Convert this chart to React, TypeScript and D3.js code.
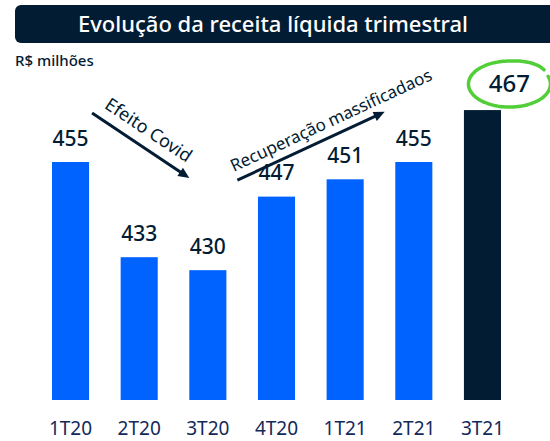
import React from "react";
import * as d3 from "d3";

const categories = ["1T20", "2T20", "3T20", "4T20", "1T21", "2T21", "3T21"];
const values = [455, 433, 430, 447, 451, 455, 467];
const highlight = [false, false, false, false, false, false, true];
const title = "Evolução da receita líquida trimestral";
const unitLabel = "R$ milhões";
const covidText = "Efeito Covid";
const recoveryText = "Recuperação massificadaos";

const W = 550;
const H = 441;
const FONT = "'Noto Sans', 'Open Sans', sans-serif";
const BLUE = "#0063ff";
const NAVY = "#021c33";
const GREEN = "#52cf38";

export default function App() {
  const x = d3.scaleBand<string>().domain(categories).range([52, 501]).paddingInner(0.46).paddingOuter(0);
  const y = d3.scaleLinear().domain([400, 455]).range([400, 162]);
  const bw = x.bandwidth();
  const cx = (c: string) => (x(c) as number) + bw / 2;

  const covid = { x1: (x("1T20") as number) + bw + 3, y1: y(466.3), x2: x("3T20") as number, y2: y(451.3) };
  const rec = { x1: (x("3T20") as number) + bw + 11, y1: y(450.8), x2: (x("1T21") as number) + bw + 21, y2: y(466.6) };

  const arrow = (a: { x1: number; y1: number; x2: number; y2: number }, key: string) => {
    const ang = Math.atan2(a.y2 - a.y1, a.x2 - a.x1);
    const L = 11, Wd = 5;
    const bx = a.x2 - L * Math.cos(ang), by = a.y2 - L * Math.sin(ang);
    const px = -Math.sin(ang) * Wd, py = Math.cos(ang) * Wd;
    return (
      <g key={key}>
        <line x1={a.x1} y1={a.y1} x2={bx + 2 * Math.cos(ang)} y2={by + 2 * Math.sin(ang)} stroke={NAVY} strokeWidth={3} />
        <path d={`M${a.x2},${a.y2}L${bx + px},${by + py}L${bx - px},${by - py}Z`} fill={NAVY} />
      </g>
    );
  };

  const textOn = (a: { x1: number; y1: number; x2: number; y2: number }, txt: string, along: number, perp: number, size: number) => {
    const ang = Math.atan2(a.y2 - a.y1, a.x2 - a.x1);
    const mx = (a.x1 + a.x2) / 2, my = (a.y1 + a.y2) / 2;
    const ux = Math.cos(ang), uy = Math.sin(ang);
    const nx = Math.sin(ang), ny = -Math.cos(ang);
    const tx = mx + ux * along + nx * perp;
    const ty = my + uy * along + ny * perp;
    return (
      <text x={tx} y={ty} textAnchor="middle" fontSize={size} fill={NAVY} fontFamily={FONT}
        transform={`rotate(${(ang * 180) / Math.PI},${tx},${ty})`}>{txt}</text>
    );
  };

  const hiIdx = highlight.indexOf(true);
  const hi = categories[hiIdx];
  const ecx = cx(hi) + 27, ecy = y(values[hiIdx]) - 26;
  const pts: [number, number][] = [];
  for (let t = -0.35 * Math.PI; t <= 1.62 * Math.PI; t += 0.05) {
    const ang = -Math.PI / 2 - t;
    const grow = t < 0 ? 1 + t * 0.05 : 1;
    pts.push([ecx + 41 * Math.cos(ang) * grow, ecy + 23 * Math.sin(ang) * grow + (t < 0 ? t * 4 : 0)]);
  }
  const eline = d3.line().curve(d3.curveCatmullRom)(pts) as string;

  return (
    <svg width={W} height={H} style={{ position: "absolute", left: 0, top: 0 }}>
      <rect x={0} y={0} width={W} height={H} fill="#ffffff" />
      <rect x={15} y={5} width={560} height={38} rx={6} fill={NAVY} />
      <text x={273} y={32} textAnchor="middle" fontSize={22} fontWeight={500} fill="#ffffff" fontFamily={FONT}>{title}</text>
      <text x={15} y={66} fontSize={15} fontWeight={500} fill={NAVY} fontFamily={FONT}>{unitLabel}</text>

      {categories.map((c, i) => (
        <g key={c}>
          <rect x={x(c)} y={y(values[i])} width={bw} height={y(400) - y(values[i])} fill={highlight[i] ? NAVY : BLUE} />
          <text x={highlight[i] ? ecx : cx(c)} y={y(values[i]) - (highlight[i] ? 18 : 16.5)} textAnchor="middle"
            fontSize={highlight[i] ? 24 : 21} fontWeight={500} fill={NAVY} fontFamily={FONT}>{values[i]}</text>
          <text x={cx(c)} y={435} textAnchor="middle" fontSize={19} fontWeight={400} fill="#13295b" fontFamily={FONT}>{c}</text>
        </g>
      ))}

      {arrow(covid, "covid")}
      {textOn(covid, covidText, -2, 11, 18)}
      {arrow(rec, "rec")}
      {textOn(rec, recoveryText, 29, 9, 17)}

      <path d={eline} fill="none" stroke={GREEN} strokeWidth={3.5} strokeLinecap="round" />
    </svg>
  );
}
